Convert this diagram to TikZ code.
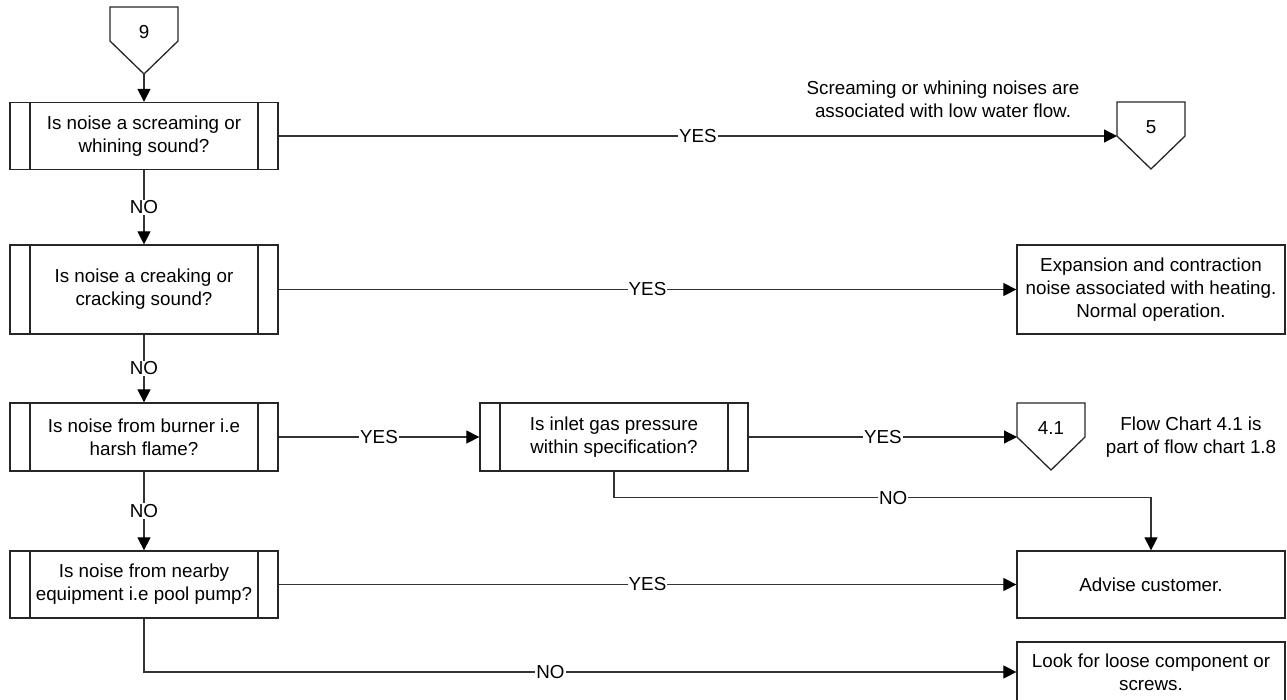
\documentclass[tikz,border=0pt]{standalone}
\usepackage{fontspec}
\setmainfont{Liberation Sans}
\usetikzlibrary{arrows.meta,calc}

\tikzset{
  base/.style={font=\fontsize{18.8}{23}\selectfont, align=center, text=black},
  shapeline/.style={draw=black!85, line width=1.3pt},
  procbox/.style={base, shapeline, minimum width=268pt, inner sep=0pt},
  predef/.style={procbox, path picture={
      \draw[black!85, line width=1.3pt]
        ([xshift=20pt]path picture bounding box.north west) -- ([xshift=20pt]path picture bounding box.south west)
        ([xshift=-20pt]path picture bounding box.north east) -- ([xshift=-20pt]path picture bounding box.south east);}},
  flow/.style={draw=black!80, line width=1.2pt, -{Triangle[length=13pt,width=13pt,color=black]}},
  lbl/.style={base, fill=white, inner sep=1pt},
}

% off-page connector: name, centre x, top y, label
\newcommand\offpage[4]{%
  \draw[shapeline] (#2-34,#3) -- (#2+34,#3) -- (#2+34,#3+34) -- (#2,#3+67) -- (#2-34,#3+34) -- cycle;
  \node[base] (#1) at (#2,#3+25) {#4};
  \coordinate (#1-tip) at (#2,#3+67);
  \coordinate (#1-in) at (#2-34,#3+34);}

\begin{document}
\begin{tikzpicture}[x=1pt,y=-1pt]
\useasboundingbox (0,0) rectangle (1287,699);

% off-page connectors
\offpage{c9}{144}{7}{9}
\offpage{c5}{1151}{102}{5}
\offpage{c41}{1051}{403}{4.1}

% decision column
\node[predef, minimum height=67pt] (b1) at (144,136) {Is noise a screaming or\\whining sound?};
\node[predef, minimum height=89pt] (b2) at (144,289.5) {Is noise a creaking or\\cracking sound?};
\node[predef, minimum height=68pt] (b3) at (144,437) {Is noise from burner i.e\\harsh flame?};
\node[predef, minimum height=67pt] (b4) at (144,584.5) {Is noise from nearby\\equipment i.e pool pump?};
\node[predef, minimum height=68pt] (gas) at (614,437) {Is inlet gas pressure\\within specification?};

% outcome boxes
\node[procbox, minimum height=89pt] (exp) at (1151,289.5) {Expansion and contraction\\noise associated with heating.\\Normal operation.};
\node[procbox, minimum height=67pt] (adv) at (1151,584.5) {Advise customer.};
\node[procbox, minimum height=60pt] (look) at (1151,672) {Look for loose component or\\screws.};

% notes
\node[base] (note1) at (943,99) {Screaming or whining noises are\\associated with low water flow.};
\node[base] (note2) at (1191,437) {Flow Chart 4.1 is\\part of flow chart 1.8};

% connectors
\draw[flow] (c9-tip) -- (b1.north);
\draw[flow] (b1.east) -- node[lbl] {YES} (c5-in);
\draw[flow] (b1.south) -- node[lbl] {NO} (b2.north);
\draw[flow] (b2.east) -- node[lbl] {YES} (exp.west);
\draw[flow] (b2.south) -- node[lbl] {NO} (b3.north);
\draw[flow] (b3.east) -- node[lbl] {YES} (gas.west);
\draw[flow] (gas.east) -- node[lbl] {YES} (c41-in);
\draw[flow] (gas.south) -- ++(0,26) -| node[lbl, pos=0.26] {NO} (adv.north);
\draw[flow] (b3.south) -- node[lbl] {NO} (b4.north);
\draw[flow] (b4.east) -- node[lbl] {YES} (adv.west);
\draw[flow] (b4.south) |- node[lbl, pos=0.733] {NO} (look.west);
\end{tikzpicture}
\end{document}
